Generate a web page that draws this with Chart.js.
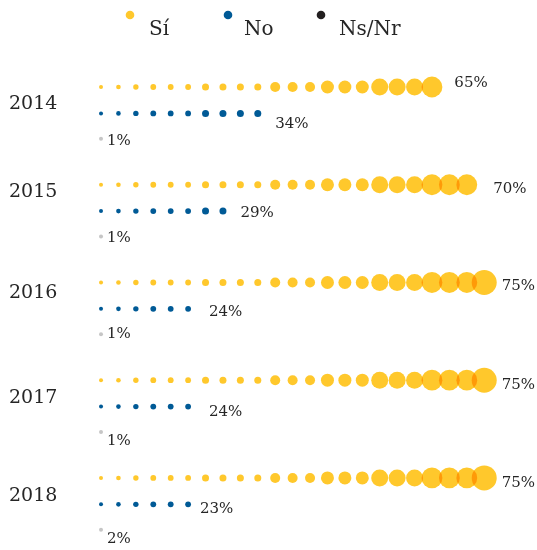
<!DOCTYPE html>
<html>
<head>
<meta charset="utf-8">
<script src="https://cdn.jsdelivr.net/npm/chart.js@4/dist/chart.umd.min.js"></script>
<style>
  html, body { margin: 0; padding: 0; background: #fff; }
  #wrap { width: 537px; height: 550px; }
</style>
</head>
<body>
<div id="wrap"><canvas id="chart" width="537" height="550"></canvas></div>
<script>
// Data
const years = ['2014', '2015', '2016', '2017', '2018'];
const categories = ['Sí', 'No', 'Ns/Nr'];
const siPct = [65, 70, 75, 75, 75];
const noPct = [34, 29, 24, 24, 23];
const nsPct = [1, 1, 1, 1, 2];
// dots drawn per row
const siDots = [20, 22, 23, 23, 23];
const noDots = [10, 8, 6, 6, 6];
const nsDots = [1, 1, 1, 1, 1];
// dot size by position in the row (grows along the row)
const dotRadii = [2, 2.3, 2.7, 2.9, 2.9, 2.9, 3.5, 3.5, 3.5, 3.5, 5, 5, 5, 6.5, 6.5, 6.5, 8.5, 8.5, 8.5, 10.4, 10.4, 10.4, 12.5];

const colors = ['#ffc82c', '#005a96', '#c6c6c6'];
const overlapColor = '#ff9a08';
const legendColors = ['#ffc82c', '#005a96', '#231f20'];
const textColor = '#262626';
const rowOffsets = [0, 0.27, 0.53];
const serif = '"DejaVu Serif", "Liberation Serif", serif';

// label placement tweaks (gap after the last dot, vertical shift), per year
const labelGap = [[12, 16, 5, 5, 5], [14, 14, 18, 18, 9], [4, 4, 4, 4, 4]];
const labelDy = [[-4, 4, 4, 5, 5], [11, 2, 3, 5, 5], [2, 2, 0, 9, 9]];
const yearDy = [17, 7, 11, 18, 18];

function rowPoints(counts, row) {
    const pts = [];
    years.forEach((y, i) => {
        for (let k = 0; k < counts[i]; k++) {
            pts.push({ x: k, y: i + rowOffsets[row], r: dotRadii[k], year: i, last: k === counts[i] - 1 });
        }
    });
    return pts;
}

const pctSets = [siPct, noPct, nsPct];

// tint the lens where neighbouring dots overlap
function drawOverlaps(chart) {
    const ctx = chart.ctx;
    const xs = chart.scales.x, ys = chart.scales.y;
    chart.data.datasets.forEach((ds) => {
        for (let i = 1; i < ds.data.length; i++) {
            const a = ds.data[i - 1], b = ds.data[i];
            if (a.year !== b.year) continue;
            const ax = xs.getPixelForValue(a.x), bx = xs.getPixelForValue(b.x);
            const yy = ys.getPixelForValue(a.y);
            if (bx - ax >= a.r + b.r) continue;
            ctx.save();
            ctx.beginPath();
            ctx.arc(ax, yy, a.r, 0, Math.PI * 2);
            ctx.closePath();
            ctx.clip();
            ctx.beginPath();
            ctx.arc(bx, yy, b.r, 0, Math.PI * 2);
            ctx.closePath();
            ctx.fillStyle = overlapColor;
            ctx.fill();
            ctx.restore();
        }
    });
}

const textPlugin = {
    id: 'texts',
    afterDraw(chart) {
        drawOverlaps(chart);

        const ctx = chart.ctx;
        ctx.save();
        ctx.fillStyle = textColor;

        // legend
        const legendDots = [130, 228, 321];
        const legendText = [149, 244, 339];
        categories.forEach((c, i) => {
            ctx.beginPath();
            ctx.fillStyle = legendColors[i];
            ctx.arc(legendDots[i], 15, 4.3, 0, Math.PI * 2);
            ctx.fill();
            ctx.fillStyle = textColor;
            ctx.font = '20px ' + serif;
            ctx.textBaseline = 'alphabetic';
            ctx.textAlign = 'left';
            ctx.fillText(c, legendText[i], 35);
        });

        // year labels
        const yScale = chart.scales.y;
        ctx.font = '19px ' + serif;
        ctx.textBaseline = 'middle';
        years.forEach((y, i) => {
            ctx.fillText(y, 9, yScale.getPixelForValue(i) + yearDy[i]);
        });

        // percentage labels after the last dot of each row
        ctx.font = '15px ' + serif;
        chart.data.datasets.forEach((ds, d) => {
            const meta = chart.getDatasetMeta(d);
            ds.data.forEach((p, idx) => {
                if (!p.last) return;
                const el = meta.data[idx];
                ctx.fillText(pctSets[d][p.year] + '%', el.x + p.r + labelGap[d][p.year], el.y + labelDy[d][p.year]);
            });
        });
        ctx.restore();
    }
};

new Chart(document.getElementById('chart'), {
    type: 'bubble',
    data: {
        datasets: [
            { label: categories[0], data: rowPoints(siDots, 0), backgroundColor: colors[0], borderWidth: 0 },
            { label: categories[1], data: rowPoints(noDots, 1), backgroundColor: colors[1], borderWidth: 0 },
            { label: categories[2], data: rowPoints(nsDots, 2), backgroundColor: colors[2], borderWidth: 0 }
        ]
    },
    options: {
        responsive: false,
        animation: false,
        layout: { padding: 0, autoPadding: false },
        plugins: {
            legend: { display: false },
            tooltip: { enabled: false }
        },
        events: [],
        scales: {
            x: { type: 'linear', display: false, min: -5.8, max: 25.03 },
            y: { type: 'linear', display: false, reverse: true, min: -0.89, max: 4.737 }
        }
    },
    plugins: [textPlugin]
});
</script>
</body>
</html>
